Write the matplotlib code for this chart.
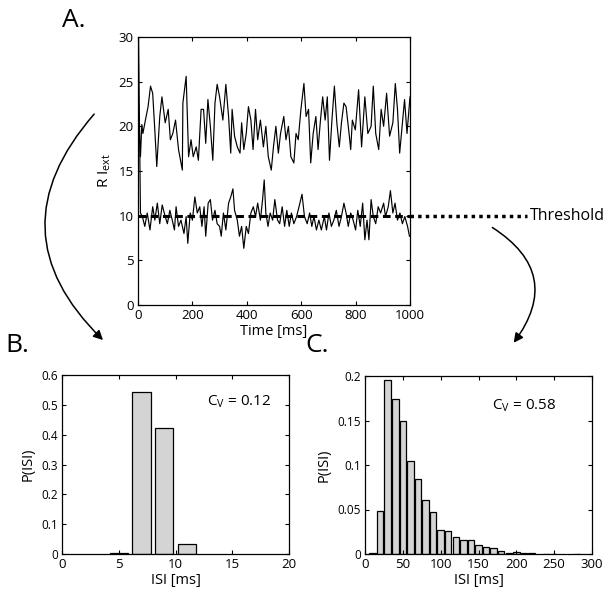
import numpy as np
import matplotlib
matplotlib.use("Agg")
import matplotlib.pyplot as plt
from matplotlib.patches import FancyArrowPatch

plt.rcParams['font.family'] = ['Open Sans', 'DejaVu Sans']
plt.rcParams['mathtext.fontset'] = 'custom'
plt.rcParams['mathtext.rm'] = 'Open Sans'
plt.rcParams['mathtext.it'] = 'Open Sans'

# panel A: input traces (time in ms, value)
t_high = [0, 5, 9, 14, 18, 26, 37, 46, 54, 62, 69, 80, 88, 100, 111, 119, 128, 138, 149, 163,
          165, 177, 186, 195, 203, 214, 222, 232, 241, 249, 257, 266, 275, 283, 291, 300, 312,
          323, 333, 341, 346, 355, 365, 375, 381, 389, 398, 406, 415, 423, 432, 440, 450, 461,
          470, 479, 490, 498, 507, 516, 524, 536, 544, 553, 562, 573, 581, 589, 599, 610, 618,
          627, 635, 644, 654, 662, 670, 679, 688, 696, 704, 713, 722, 731, 740, 748, 757, 765,
          776, 782, 788, 799, 811, 822, 834, 845, 857, 865, 874, 885, 894, 903, 914, 925, 937,
          946, 954, 962, 971, 980, 989, 1000]
v_high = [17.4, 19.8, 16.6, 20.2, 19.2, 20.5, 22.2, 24.5, 23.7, 19.5, 15.5, 21.1, 23.3, 20.4,
          21.9, 18.5, 19.2, 20.7, 17.4, 15.1, 22.6, 25.6, 16.6, 18.5, 16.6, 17.7, 16.2, 21.9,
          21.9, 18.1, 23.0, 20.0, 16.2, 22.6, 24.7, 23.3, 20.7, 24.7, 21.1, 17.0, 21.9, 18.9,
          17.7, 17.0, 20.4, 17.4, 19.2, 22.2, 20.7, 17.4, 21.9, 18.5, 20.7, 17.7, 20.0, 16.6,
          15.1, 17.7, 20.0, 17.0, 19.2, 21.1, 18.5, 20.0, 16.6, 15.9, 19.2, 18.5, 21.9, 24.8,
          21.1, 21.9, 15.9, 19.2, 21.1, 17.4, 20.4, 23.3, 20.7, 23.3, 16.2, 20.7, 24.5, 20.4,
          17.7, 20.4, 22.6, 22.2, 19.2, 17.4, 20.7, 19.6, 24.1, 17.7, 23.3, 19.2, 20.0, 24.5,
          19.2, 17.4, 21.9, 20.0, 23.7, 18.9, 20.4, 24.8, 21.9, 17.0, 20.0, 23.0, 19.2, 23.3]

t_low = [0, 2, 9, 16, 25, 34, 44, 54, 62, 71, 80, 89, 100, 108, 117, 126, 134, 140, 149, 158,
         169, 177, 183, 192, 200, 209, 218, 227, 235, 243, 249, 258, 266, 274, 283, 291, 300,
         306, 314, 323, 333, 341, 349, 355, 365, 373, 381, 389, 398, 406, 415, 424, 432, 440,
         450, 458, 464, 470, 478, 486, 495, 503, 513, 521, 530, 539, 547, 556, 564, 573, 583,
         592, 603, 612, 622, 631, 639, 647, 656, 665, 674, 685, 693, 702, 711, 720, 729, 739,
         748, 757, 765, 773, 782, 791, 800, 808, 817, 826, 834, 842, 849, 857, 865, 874, 883,
         892, 903, 910, 920, 928, 937, 945, 954, 963, 972, 981, 991, 998]
v_low = [30.0, 30.0, 10.3, 9.9, 8.8, 10.3, 8.4, 11.0, 9.5, 11.4, 9.1, 11.2, 9.9, 9.1, 10.6,
         9.5, 8.4, 11.0, 8.8, 9.5, 8.0, 9.9, 6.9, 10.3, 9.5, 12.1, 10.3, 11.0, 8.8, 11.0, 7.7,
         11.4, 11.8, 9.5, 10.6, 9.1, 8.8, 7.7, 10.3, 8.4, 11.4, 12.1, 13.0, 10.6, 9.5, 7.7, 8.8,
         6.35, 8.8, 8.0, 10.3, 11.0, 9.9, 11.4, 9.5, 11.8, 14.0, 10.3, 8.8, 10.3, 9.5, 11.8, 9.5,
         9.1, 11.0, 8.8, 10.6, 8.8, 10.3, 9.1, 9.9, 11.0, 12.4, 9.9, 9.1, 10.3, 8.8, 9.9, 8.4,
         9.5, 8.4, 9.9, 8.4, 10.3, 8.8, 9.5, 10.6, 8.8, 9.9, 11.4, 10.3, 8.8, 10.3, 9.5, 8.4,
         10.6, 8.8, 11.4, 7.3, 9.5, 7.3, 11.8, 9.9, 9.1, 11.0, 10.3, 11.4, 9.9, 11.0, 12.8, 10.3,
         11.4, 9.5, 10.3, 9.1, 9.9, 8.8, 7.7]
threshold = 10

# panel B: ISI histogram, low CV
isi_b = [5, 7, 9, 11]
p_b = [0.003, 0.542, 0.422, 0.032]
cv_b = 0.12

# panel C: ISI histogram, high CV
isi_c = [10, 20, 30, 40, 50, 60, 70, 80, 90, 100, 110, 120, 130, 140, 150, 160, 170, 180,
         190, 200, 210, 220, 240, 250, 280]
p_c = [0.001, 0.0488, 0.196, 0.1745, 0.149, 0.104, 0.084, 0.061, 0.047, 0.027, 0.026, 0.0188,
       0.0158, 0.0158, 0.0102, 0.0079, 0.0064, 0.0038, 0.001, 0.0026, 0.001, 0.0006, 0.0004,
       0.0005, 0.0004]
cv_c = 0.58

W, H = 611, 592
fig = plt.figure(figsize=(W / 100, H / 100), dpi=100)


def box(l, t, r, b):
    return [l / W, 1 - b / H, (r - l) / W, (b - t) / H]


def style(ax):
    ax.tick_params(direction='in', top=True, right=True, length=3, width=0.8,
                   labelsize=9.5, pad=3)
    for s in ax.spines.values():
        s.set_linewidth(0.9)


axA = fig.add_axes(box(138, 37, 410, 305))
axA.plot([0, 1000], [threshold, threshold], color='black', lw=2.2, ls=(0, (2.5, 1.5)))
axA.plot(t_high, v_high, color='black', lw=0.85)
axA.plot(t_low, v_low, color='black', lw=0.85)
axA.plot([1000, 1430], [threshold, threshold], color='black', lw=2.5, ls=(0, (1, 1.2)),
         clip_on=False)
axA.text(1440, threshold, 'Threshold', fontsize=11.5, va='center', ha='left')
axA.set_xlim(0, 1000)
axA.set_ylim(0, 30)
axA.set_xticks(range(0, 1001, 200))
axA.set_yticks(range(0, 31, 5))
axA.set_xlabel('Time [ms]', fontsize=10.5, labelpad=1)
axA.set_ylabel(r'R I$_{\mathrm{ext}}$', fontsize=11, labelpad=4)
style(axA)

axB = fig.add_axes(box(62, 375, 289, 554))
axB.bar(isi_b, p_b, width=1.6, color='#d4d4d4', edgecolor='black', linewidth=0.9)
axB.set_xlim(0, 20)
axB.set_ylim(0, 0.6)
axB.set_xticks([0, 5, 10, 15, 20])
axB.set_yticks([0, 0.1, 0.2, 0.3, 0.4, 0.5, 0.6])
axB.set_yticklabels(['0', '0.1', '0.2', '0.3', '0.4', '0.5', '0.6'])
axB.set_xlabel('ISI [ms]', fontsize=10.5, labelpad=1)
axB.set_ylabel('P(ISI)', fontsize=10.5, labelpad=4)
axB.text(0.64, 0.83, r'C$_{\mathrm{V}}$ = %.2f' % cv_b, transform=axB.transAxes, fontsize=11)
style(axB)
axB.tick_params(axis='y', labelsize=8.5)

axC = fig.add_axes(box(365, 376, 592, 554))
axC.bar(isi_c, p_c, width=8.6, color='#d4d4d4', edgecolor='black', linewidth=0.9)
axC.set_xlim(0, 300)
axC.set_ylim(0, 0.2)
axC.set_xticks(range(0, 301, 50))
axC.set_yticks([0, 0.05, 0.1, 0.15, 0.2])
axC.set_yticklabels(['0', '0.05', '0.1', '0.15', '0.2'])
axC.set_xlabel('ISI [ms]', fontsize=10.5, labelpad=1)
axC.set_ylabel('P(ISI)', fontsize=10.5, labelpad=4)
axC.text(0.56, 0.81, r'C$_{\mathrm{V}}$ = %.2f' % cv_c, transform=axC.transAxes, fontsize=11)
style(axC)
axC.tick_params(axis='y', labelsize=8.5)

fig.text(62 / W, 1 - 8 / H, 'A.', fontsize=19, va='top', ha='left')
fig.text(5 / W, 1 - 333 / H, 'B.', fontsize=19, va='top', ha='left')
fig.text(305 / W, 1 - 333 / H, 'C.', fontsize=19, va='top', ha='left')

arr_kw = dict(arrowstyle='-|>', mutation_scale=14, color='black', lw=1.1,
              transform=fig.transFigure)
fig.patches.append(FancyArrowPatch((96 / W, 1 - 112 / H), (105 / W, 1 - 342 / H),
                                   connectionstyle='arc3,rad=0.48', **arr_kw))
fig.patches.append(FancyArrowPatch((490 / W, 1 - 226 / H), (512 / W, 1 - 345 / H),
                                   connectionstyle='arc3,rad=-0.55', **arr_kw))

fig.savefig('out.png', dpi=100)
